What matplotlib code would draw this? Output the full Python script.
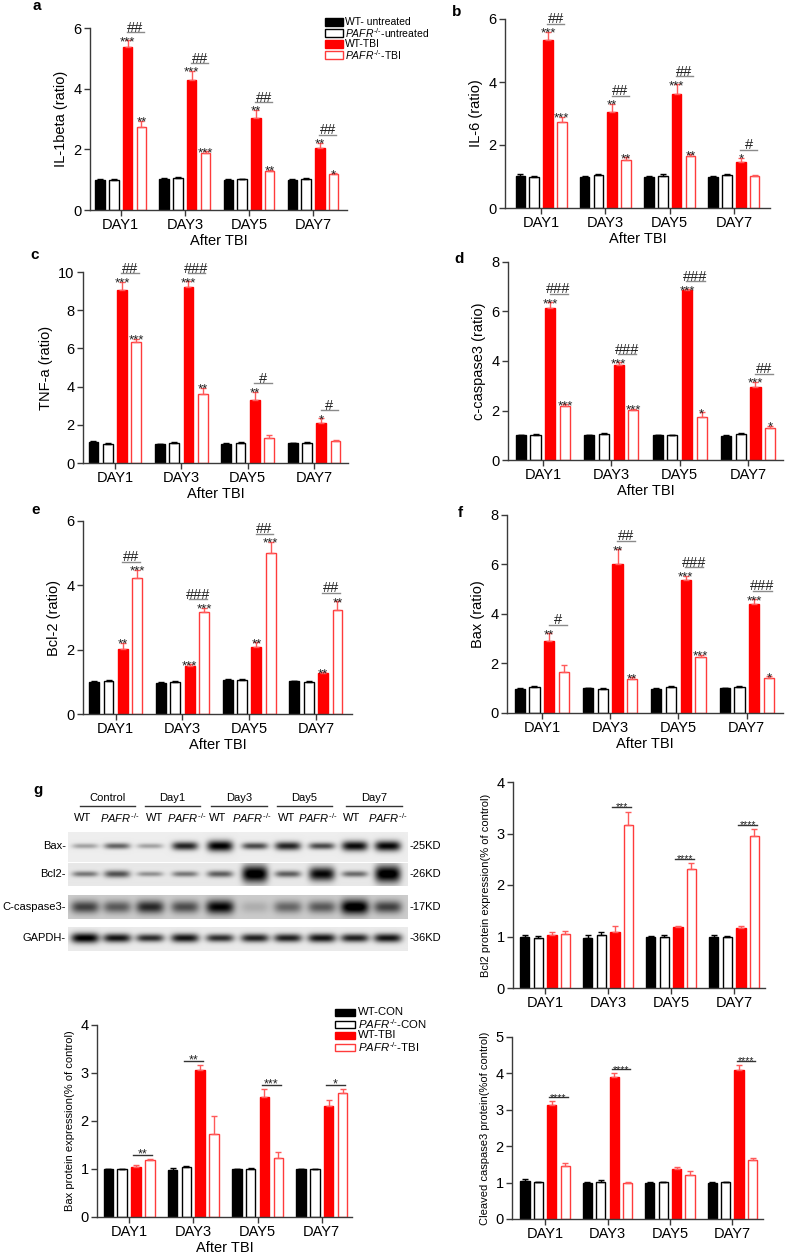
import numpy as np
import matplotlib.pyplot as plt
from matplotlib.patches import Rectangle

plt.rcParams['font.family'] = ['Liberation Sans', 'DejaVu Sans']
plt.rcParams['mathtext.fontset'] = 'custom'
plt.rcParams['mathtext.rm'] = 'Liberation Sans'
plt.rcParams['mathtext.it'] = 'Liberation Sans:italic'

days = ['DAY1', 'DAY3', 'DAY5', 'DAY7']
KO = r'$\mathit{PAFR}^{\text{-/-}}$'

# ---- panel a: IL-1beta ----
il1b_mean = [[1.00, 1.02, 1.00, 1.00], [0.99, 1.06, 1.01, 1.01],
             [5.38, 4.30, 3.02, 2.05], [2.72, 1.87, 1.28, 1.18]]
il1b_sem = [[0.03, 0.02, 0.02, 0.02], [0.02, 0.04, 0.02, 0.04],
            [0.22, 0.28, 0.28, 0.17], [0.22, 0.06, 0.05, 0.03]]
il1b_star_wt = ['***', '***', '**', '**']
il1b_star_ko = ['**', '***', '**', '*']
il1b_hash = ['##', '##', '##', '##']

# ---- panel b: IL-6 ----
il6_mean = [[1.02, 1.00, 1.00, 1.00], [1.00, 1.05, 1.03, 1.04],
            [5.32, 3.04, 3.63, 1.47], [2.72, 1.53, 1.65, 1.03]]
il6_sem = [[0.06, 0.02, 0.02, 0.02], [0.02, 0.03, 0.04, 0.03],
           [0.27, 0.27, 0.30, 0.12], [0.18, 0.08, 0.06, 0.03]]
il6_star_wt = ['***', '**', '***', '*']
il6_star_ko = ['***', '**', '**', '']
il6_hash = ['##', '##', '##', '#']

# ---- panel c: TNF-a ----
tnf_mean = [[1.10, 1.00, 1.02, 1.05], [1.02, 1.05, 1.07, 1.05],
            [9.08, 9.23, 3.32, 2.08], [6.32, 3.63, 1.33, 1.14]]
tnf_sem = [[0.04, 0.02, 0.03, 0.02], [0.02, 0.03, 0.04, 0.03],
           [0.42, 0.28, 0.42, 0.25], [0.18, 0.32, 0.12, 0.04]]
tnf_star_wt = ['***', '***', '**', '*']
tnf_star_ko = ['***', '**', '', '']
tnf_hash = ['##', '###', '#', '#']

# ---- panel d: c-caspase3 ----
casp_mean = [[1.00, 1.00, 1.00, 0.98], [1.03, 1.05, 0.99, 1.05],
             [6.16, 3.82, 6.86, 2.93], [2.17, 2.01, 1.72, 1.30]]
casp_sem = [[0.03, 0.03, 0.03, 0.02], [0.02, 0.03, 0.02, 0.03],
            [0.22, 0.12, 0.03, 0.22], [0.08, 0.06, 0.20, 0.08]]
casp_star_wt = ['***', '***', '***', '***']
casp_star_ko = ['***', '***', '*', '*']
casp_hash = ['###', '###', '###', '##']

# ---- panel e: Bcl-2 ----
bcl_mean = [[1.00, 0.96, 1.05, 1.02], [1.04, 1.00, 1.05, 1.00],
            [2.03, 1.50, 2.08, 1.26], [4.22, 3.16, 5.00, 3.23]]
bcl_sem = [[0.02, 0.02, 0.03, 0.02], [0.02, 0.02, 0.03, 0.02],
           [0.18, 0.04, 0.15, 0.04], [0.26, 0.15, 0.35, 0.28]]
bcl_star_wt = ['**', '***', '**', '**']
bcl_star_ko = ['***', '***', '***', '**']
bcl_hash = ['##', '###', '##', '##']

# ---- panel f: Bax ----
bax_mean = [[0.98, 1.00, 0.98, 1.00], [1.05, 0.98, 1.05, 1.07],
            [2.92, 6.00, 5.38, 4.40], [1.65, 1.38, 2.25, 1.42]]
bax_sem = [[0.02, 0.02, 0.02, 0.02], [0.03, 0.02, 0.03, 0.03],
           [0.30, 0.62, 0.16, 0.20], [0.28, 0.07, 0.10, 0.07]]
bax_star_wt = ['**', '**', '***', '***']
bax_star_ko = ['', '**', '***', '*']
bax_hash = ['#', '##', '###', '###']

# ---- panel g: western blot quantification ----
wb_bcl2_mean = [[1.00, 0.98, 1.00, 1.00], [0.98, 1.03, 1.00, 0.99],
                [1.03, 1.08, 1.18, 1.16], [1.05, 3.17, 2.32, 2.95]]
wb_bcl2_sem = [[0.02, 0.05, 0.01, 0.02], [0.03, 0.05, 0.02, 0.02],
               [0.05, 0.12, 0.02, 0.04], [0.06, 0.25, 0.10, 0.13]]
wb_bcl2_sig = ['', '***', '****', '****']

wb_casp_mean = [[1.04, 0.98, 1.00, 1.00], [1.01, 1.03, 1.01, 1.01],
                [3.12, 3.90, 1.36, 4.08], [1.46, 1.00, 1.22, 1.63]]
wb_casp_sem = [[0.05, 0.04, 0.01, 0.01], [0.01, 0.03, 0.01, 0.01],
               [0.11, 0.10, 0.08, 0.16], [0.08, 0.01, 0.09, 0.04]]
wb_casp_sig = ['****', '****', '', '****']

wb_bax_mean = [[1.00, 0.98, 1.00, 1.00], [1.00, 1.04, 1.01, 1.00],
               [1.04, 3.07, 2.50, 2.32], [1.19, 1.73, 1.22, 2.59]]
wb_bax_sem = [[0.01, 0.05, 0.01, 0.01], [0.01, 0.02, 0.01, 0.01],
              [0.04, 0.10, 0.17, 0.11], [0.02, 0.37, 0.13, 0.08]]
wb_bax_sig = ['**', '**', '***', '*']
wb_bax_pairs = [(2, 3), (1, 2), (2, 3), (2, 3)]

# blot band darkness per lane (WT, KO for Control, Day1, Day3, Day5, Day7)
blot_groups = ['Control', 'Day1', 'Day3', 'Day5', 'Day7']
band_bax = [0.30, 0.55, 0.30, 0.80, 0.95, 0.65, 0.80, 0.65, 0.90, 0.92]
band_bcl2 = [0.45, 0.60, 0.35, 0.45, 0.55, 1.00, 0.55, 0.90, 0.50, 1.00]
band_casp = [0.55, 0.45, 0.65, 0.50, 0.80, 0.12, 0.40, 0.45, 0.90, 0.55]
band_gapdh = [0.95, 0.85, 0.75, 0.85, 0.75, 0.80, 0.80, 0.85, 0.80, 0.85]

RED = '#ff0000'
KO_EDGE = '#ff3b3b'
ERR_RED = '#ff5a5a'
AXC = '#3a3a3a'
STEP, WIDTH = 0.215, 0.148

W, H = 787, 1254
fig = plt.figure(figsize=(W / 100, H / 100), dpi=100)


def px_axes(l, t, r, b):
    return fig.add_axes([l / W, 1 - b / H, (r - l) / W, (b - t) / H])


def bar_panel(ax, means, sems, ymax, ystep, xlim, ylabel, yl_size, xlabel=True):
    x = np.arange(4)
    fills = ['black', 'white', RED, 'white']
    edges = ['black', 'black', RED, KO_EDGE]
    ecols = ['black', 'black', ERR_RED, ERR_RED]
    for i in range(4):
        xi = x + (i - 1.5) * STEP
        ax.bar(xi, means[i], WIDTH, color=fills[i], edgecolor=edges[i], linewidth=1)
        ax.errorbar(xi, means[i], yerr=[np.zeros(4), sems[i]], fmt='none',
                    ecolor=ecols[i], elinewidth=1, capsize=2.5, capthick=1)
    for s in ['top', 'right']:
        ax.spines[s].set_visible(False)
    for s in ['left', 'bottom']:
        ax.spines[s].set_color(AXC)
        ax.spines[s].set_linewidth(1)
    ax.tick_params(direction='out', length=4, width=1, color=AXC, labelsize=10.5, pad=2)
    ax.set_xticks(x, days)
    ticks = np.arange(0, ymax + 0.01, ystep)
    ax.set_yticks(ticks, [f'{t:g}' for t in ticks])
    ax.set_ylim(0, ymax)
    ax.set_xlim(xlim)
    ax.set_ylabel(ylabel, fontsize=yl_size)
    if xlabel:
        ax.set_xlabel('After TBI', fontsize=10.5, labelpad=1)


def hash_marks(ax, means, sems, star_wt, star_ko, hashes, ymax):
    for j in range(4):
        xr = j + 0.5 * STEP
        xk = j + 1.5 * STEP
        top_r = means[2][j] + sems[2][j]
        top_k = means[3][j] + sems[3][j]
        for xx, tp, s in [(xr, top_r, star_wt[j]), (xk, top_k, star_ko[j])]:
            if s:
                ax.annotate(s, (xx, tp), xytext=(0, -3.5), textcoords='offset points',
                            ha='center', va='baseline', fontsize=9.5, color='#222222')
        yl = max(top_r, top_k) + 0.043 * ymax
        ax.plot([xr - 0.01, xk + 0.04], [yl, yl], color='#8a8a8a', lw=1, clip_on=False)
        ax.annotate(hashes[j], ((xr + xk) / 2 + 0.015, yl), xytext=(0, 0.3),
                    textcoords='offset points', ha='center', va='baseline',
                    fontsize=10.5, color='#222222', annotation_clip=False)


def sig_marks(ax, means, sems, sig, pairs, ymax, size):
    for j in range(4):
        if not sig[j]:
            continue
        a, b = pairs[j]
        xa = j + (a - 1.5) * STEP
        xb = j + (b - 1.5) * STEP
        top = max(means[a][j] + sems[a][j], means[b][j] + sems[b][j])
        yl = top + 0.022 * ymax
        ax.plot([xa - 0.04, xb + 0.04], [yl, yl], color='#333333', lw=1)
        ax.annotate(sig[j], ((xa + xb) / 2, yl), xytext=(0, -2.3), textcoords='offset points',
                    ha='center', va='baseline', fontsize=size, color='#222222')


# top six panels
ax = px_axes(90, 28, 347, 210)
bar_panel(ax, il1b_mean, il1b_sem, 6, 2, (-0.48, 3.53), 'IL-1beta (ratio)', 10.5)
hash_marks(ax, il1b_mean, il1b_sem, il1b_star_wt, il1b_star_ko, il1b_hash, 6)

ax = px_axes(505, 19, 770, 208)
bar_panel(ax, il6_mean, il6_sem, 6, 2, (-0.56, 3.56), 'IL-6 (ratio)', 10.5)
hash_marks(ax, il6_mean, il6_sem, il6_star_wt, il6_star_ko, il6_hash, 6)

ax = px_axes(83, 272, 348, 463)
bar_panel(ax, tnf_mean, tnf_sem, 10, 2, (-0.48, 3.51), 'TNF-a (ratio)', 10.5)
hash_marks(ax, tnf_mean, tnf_sem, tnf_star_wt, tnf_star_ko, tnf_hash, 10)

ax = px_axes(508, 262, 783, 460)
bar_panel(ax, casp_mean, casp_sem, 8, 2, (-0.51, 3.51), 'c-caspase3 (ratio)', 10.5)
hash_marks(ax, casp_mean, casp_sem, casp_star_wt, casp_star_ko, casp_hash, 8)

ax = px_axes(83, 521, 352, 714)
bar_panel(ax, bcl_mean, bcl_sem, 6, 2, (-0.49, 3.54), 'Bcl-2 (ratio)', 10.5)
hash_marks(ax, bcl_mean, bcl_sem, bcl_star_wt, bcl_star_ko, bcl_hash, 6)

ax = px_axes(507, 515, 783, 713)
bar_panel(ax, bax_mean, bax_sem, 8, 2, (-0.51, 3.53), 'Bax (ratio)', 10.5)
hash_marks(ax, bax_mean, bax_sem, bax_star_wt, bax_star_ko, bax_hash, 8)

# western blot quantification panels
ax = px_axes(513, 782, 765, 988)
bar_panel(ax, wb_bcl2_mean, wb_bcl2_sem, 4, 1, (-0.51, 3.49),
          'Bcl2 protein expression(% of control)', 8, xlabel=False)
sig_marks(ax, wb_bcl2_mean, wb_bcl2_sem, wb_bcl2_sig, [(2, 3)] * 4, 4, 7.5)

ax = px_axes(512, 1037, 763, 1219)
bar_panel(ax, wb_casp_mean, wb_casp_sem, 5, 1, (-0.53, 3.49),
          'Cleaved caspase3 protein(%of control)', 8, xlabel=False)
sig_marks(ax, wb_casp_mean, wb_casp_sem, wb_casp_sig, [(2, 3)] * 4, 5, 7.5)

ax = px_axes(97, 1025, 352, 1217)
bar_panel(ax, wb_bax_mean, wb_bax_sem, 4, 1, (-0.5, 3.47),
          'Bax protein expression(% of control)', 8)
sig_marks(ax, wb_bax_mean, wb_bax_sem, wb_bax_sig, wb_bax_pairs, 4, 9)

# overlay in pixel coordinates: panel letters, legends, blot
ov = fig.add_axes([0, 0, 1, 1], zorder=5)
ov.set_xlim(0, W)
ov.set_ylim(H, 0)
ov.axis('off')
ov.patch.set_alpha(0)

for lab, lx, ly in [('a', 37, 6), ('b', 457, 12), ('c', 35, 255), ('d', 459, 259),
                    ('e', 36, 510), ('f', 460, 513), ('g', 38, 790)]:
    ov.text(lx, ly, lab, fontsize=11, fontweight='bold', ha='center', va='center')

fills = ['black', 'white', RED, 'white']
edges = ['black', 'black', RED, KO_EDGE]
top_labels = ['WT- untreated', KO + '-untreated', 'WT-TBI', KO + '-TBI']
for k, yy in enumerate([22, 33, 44, 55]):
    ov.add_patch(Rectangle((325, yy - 4), 18, 8, facecolor=fills[k], edgecolor=edges[k], lw=1))
    ov.text(345, yy, top_labels[k], fontsize=7.5, va='center', ha='left')

bot_labels = ['WT-CON', KO + '-CON', 'WT-TBI', KO + '-TBI']
for k, yy in enumerate([1012, 1024, 1035, 1047]):
    ov.add_patch(Rectangle((335, yy - 3.5), 20, 7, facecolor=fills[k], edgecolor=edges[k], lw=1))
    ov.text(358, yy, bot_labels[k], fontsize=8.2, va='center', ha='left')

# blot image
lane_x = [85, 117, 150, 185, 220, 255, 288, 322, 355, 388]
bx0, bx1 = 68, 408


def blot_strip(y0, y1, yc, dark, bg, thick_base, thick_gain, halfw):
    xs = np.linspace(bx0, bx1, 680)
    ys = np.linspace(y0, y1, 60)
    X, Y = np.meshgrid(xs, ys)
    img = np.full(X.shape, bg)
    for lx, d in zip(lane_x, dark):
        t = thick_base + thick_gain * d ** 3
        img -= d * np.exp(-np.abs((X - lx) / halfw) ** 4) * np.exp(-((Y - yc) / t) ** 2)
    img = np.clip(img, 0, 1)
    ov.imshow(img, extent=(bx0, bx1, y1, y0), cmap='gray', vmin=0, vmax=1,
              aspect='auto', interpolation='bilinear')


blot_strip(832, 862, 846, band_bax, 0.93, 2.5, 3.5, 13)
blot_strip(863, 886, 874, band_bcl2, 0.91, 2.3, 6.5, 13)
blot_strip(895, 919, 907, band_casp, 0.80, 6.0, 2.0, 14)
blot_strip(927, 951, 938, band_gapdh, 0.92, 3.0, 2.5, 14)
ov.set_xlim(0, W)
ov.set_ylim(H, 0)

for name, yy, kd in [('Bax-', 846, '-25KD'), ('Bcl2-', 874, '-26KD'),
                     ('C-caspase3-', 907, '-17KD'), ('GAPDH-', 938, '-36KD')]:
    ov.text(66, yy, name, fontsize=8, ha='right', va='center')
    ov.text(410, yy, kd, fontsize=8, ha='left', va='center')

group_spans = [(80, 135), (145, 200), (211, 267), (277, 332), (346, 402)]
for g, (sx0, sx1) in zip(blot_groups, group_spans):
    ov.text((sx0 + sx1) / 2, 798, g, fontsize=8, ha='center', va='center')
    ov.plot([sx0, sx1], [806, 806], color='#333333', lw=1)

wt_x = [83, 155, 218, 287, 352]
ko_x = [120, 187, 252, 318, 388]
for wx, kx in zip(wt_x, ko_x):
    ov.text(wx, 818, 'WT', fontsize=8, ha='center', va='center')
    ov.text(kx, 818, KO, fontsize=8, ha='center', va='center')

fig.savefig('out.png', dpi=100)
